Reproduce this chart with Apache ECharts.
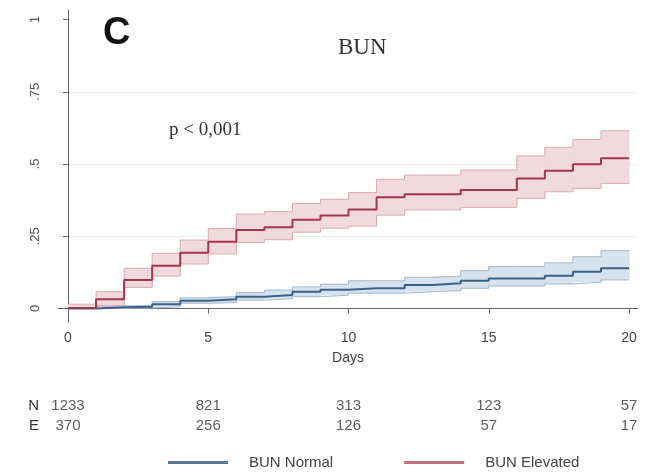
<!DOCTYPE html>
<html><head><meta charset="utf-8">
<script src="https://cdn.jsdelivr.net/npm/echarts@6/dist/echarts.min.js"></script>
<style>html,body{margin:0;padding:0;background:#fff}#c{width:649px;height:472px}</style>
</head><body><div id="c"></div>
<script>
// Step start days (each value holds from that day until the next)
const days = [0,1,2,3,4,5,6,7,8,9,10,11,12,13,14,15,16,17,18,19];
const endDay = 20;
// BUN Elevated (red)
const redEst = [0.002,0.032,0.099,0.148,0.193,0.231,0.272,0.281,0.307,0.322,0.343,0.385,0.395,0.395,0.410,0.410,0.450,0.477,0.499,0.520];
const redLo  = [0.000,0.009,0.073,0.112,0.154,0.189,0.228,0.238,0.264,0.278,0.285,0.323,0.341,0.341,0.350,0.350,0.381,0.404,0.416,0.433];
const redHi  = [0.015,0.058,0.139,0.191,0.237,0.277,0.327,0.335,0.363,0.378,0.401,0.447,0.462,0.462,0.479,0.479,0.528,0.558,0.585,0.615];
// BUN Normal (blue)
const blueEst = [0.000,0.004,0.006,0.015,0.027,0.032,0.041,0.047,0.058,0.065,0.070,0.070,0.081,0.087,0.096,0.104,0.104,0.113,0.127,0.139];
const blueLo  = [0.000,0.000,0.002,0.006,0.018,0.021,0.029,0.034,0.041,0.046,0.053,0.053,0.058,0.062,0.070,0.078,0.078,0.085,0.091,0.099];
const blueHi  = [0.000,0.009,0.011,0.024,0.037,0.041,0.055,0.064,0.075,0.084,0.096,0.096,0.108,0.112,0.131,0.145,0.145,0.158,0.179,0.200];
// Axis ticks
const xTicks = [0,5,10,15,20];
const yTicks = [0,0.25,0.5,0.75,1];
const yTickLabels = ['0','.25','.5','.75','1'];
const gridTicks = [0,0.25,0.5,0.75];
// Risk table
const riskDays = [0,5,10,15,20];
const riskN = [1233,821,313,123,57];
const riskE = [370,256,126,57,17];

function steps(vals){ const d = days.map((t,i)=>[t, vals[i]]); d.push([endDay, vals[vals.length-1]]); return d; }
function bandRects(lo, hi){ return days.map((t,i)=>[t, i+1<days.length ? days[i+1] : endDay, lo[i], hi[i]]); }

const SANS = 'Liberation Sans, Arial, sans-serif';
const SERIF = 'Liberation Serif, Times New Roman, serif';
const blueLine = '#3b6286', redLine = '#a3364a';
const blueFill = '#d6e2ed', blueEdge = '#a3b9cd';
const redFill = '#f0dade', redEdge = '#d9aab2';

const riskData = [];
riskDays.forEach((d,i)=>{ riskData.push([d,'N',riskN[i]]); riskData.push([d,'E',riskE[i]]); });

function bandSeries(name, lo, hi, fill){
  return {name:name, type:'custom', xAxisIndex:0, yAxisIndex:0, silent:true, z:1, clip:true,
    data:bandRects(lo, hi),
    encode:{x:[0,1], y:[2,3]},
    renderItem:(params, api)=>{
      const a = api.coord([api.value(0), api.value(3)]);
      const b = api.coord([api.value(1), api.value(2)]);
      return {type:'rect', shape:{x:a[0], y:a[1], width:b[0]-a[0]+0.6, height:Math.max(b[1]-a[1],0.5)},
              style:{fill:fill}};
    }};
}
function edgeSeries(name, vals, color){
  return {name:name, type:'line', xAxisIndex:0, yAxisIndex:0, step:'end', symbol:'none', silent:true, z:2,
    data:steps(vals), lineStyle:{color:color, width:1}};
}

const chart = echarts.init(document.getElementById('c'));
chart.setOption({
  animation:false,
  backgroundColor:'#fff',
  title:[
    {text:'BUN', left:333, top:31, textStyle:{fontFamily:SERIF, fontSize:23, fontWeight:'normal', color:'#333'}},
    {text:'C', left:98, top:10, textStyle:{fontFamily:SANS, fontSize:38, fontWeight:'bold', color:'#111'}},
    {text:'p < 0,001', left:164, top:116, textStyle:{fontFamily:SERIF, fontSize:19, fontWeight:'normal', color:'#333'}}
  ],
  grid:[
    {left:58, right:11, top:10, bottom:150},
    {left:58, right:11, top:396, height:40}
  ],
  xAxis:[
    {type:'value', gridIndex:0, min:-0.357, max:20.32,
     axisLine:{lineStyle:{color:'#666', width:1}},
     axisTick:{show:true, length:5, customValues:xTicks, lineStyle:{color:'#666'}},
     axisLabel:{customValues:xTicks, fontFamily:SANS, fontSize:14, color:'#444', margin:9},
     splitLine:{show:false},
     name:'Days', nameLocation:'middle', nameGap:29, nameTextStyle:{fontFamily:SANS, fontSize:14, color:'#444'}},
    {type:'value', gridIndex:1, min:-0.357, max:20.32, show:false}
  ],
  yAxis:[
    {type:'value', gridIndex:0, min:-0.0467, max:1.033,
     axisLine:{show:true, lineStyle:{color:'#666', width:1}},
     axisTick:{show:true, length:5, customValues:yTicks, lineStyle:{color:'#666'}},
     axisLabel:{customValues:yTicks, rotate:90, fontFamily:SANS, fontSize:13, color:'#555', margin:16,
       formatter:(v)=>{ const i = yTicks.findIndex(t=>Math.abs(t-v)<1e-6); return i>=0 ? yTickLabels[i] : ''; }},
     splitLine:{show:false}},
    {type:'value', gridIndex:0, min:-0.0467, max:1.033, position:'right',
     axisLine:{show:false}, axisLabel:{show:false},
     axisTick:{show:false, customValues:gridTicks},
     splitLine:{show:true, lineStyle:{color:'#ebebeb', width:1}}},
    {type:'category', gridIndex:1, data:['N','E'], inverse:true,
     axisLine:{show:false}, axisTick:{show:false},
     axisLabel:{fontFamily:SANS, fontSize:15, color:'#333', margin:19}}
  ],
  legend:{
    data:[{name:'BUN Normal', itemStyle:{color:'#5a7894'}}, {name:'BUN Elevated', itemStyle:{color:'#c36c7e'}}],
    left:163, top:450, icon:'rect', itemWidth:60, itemHeight:3, itemGap:71,
    textStyle:{fontFamily:SANS, fontSize:15, color:'#444', padding:[0,0,0,16]}
  },
  series:[
    bandSeries('blueBand', blueLo, blueHi, blueFill),
    bandSeries('redBand', redLo, redHi, redFill),
    edgeSeries('blueLoEdge', blueLo, blueEdge),
    edgeSeries('blueHiEdge', blueHi, blueEdge),
    edgeSeries('redLoEdge', redLo, redEdge),
    edgeSeries('redHiEdge', redHi, redEdge),
    {name:'BUN Normal', type:'line', xAxisIndex:0, yAxisIndex:0, step:'end', symbol:'none',
     data:steps(blueEst), lineStyle:{color:blueLine, width:2}, itemStyle:{color:blueLine}, z:3},
    {name:'BUN Elevated', type:'line', xAxisIndex:0, yAxisIndex:0, step:'end', symbol:'none',
     data:steps(redEst), lineStyle:{color:redLine, width:2}, itemStyle:{color:redLine}, z:3},
    {name:'risk', type:'scatter', xAxisIndex:1, yAxisIndex:2, symbolSize:0,
     data:riskData,
     label:{show:true, position:'inside', formatter:(p)=>String(p.value[2]), fontFamily:SANS, fontSize:15, color:'#333'}}
  ]
});
</script></body></html>
